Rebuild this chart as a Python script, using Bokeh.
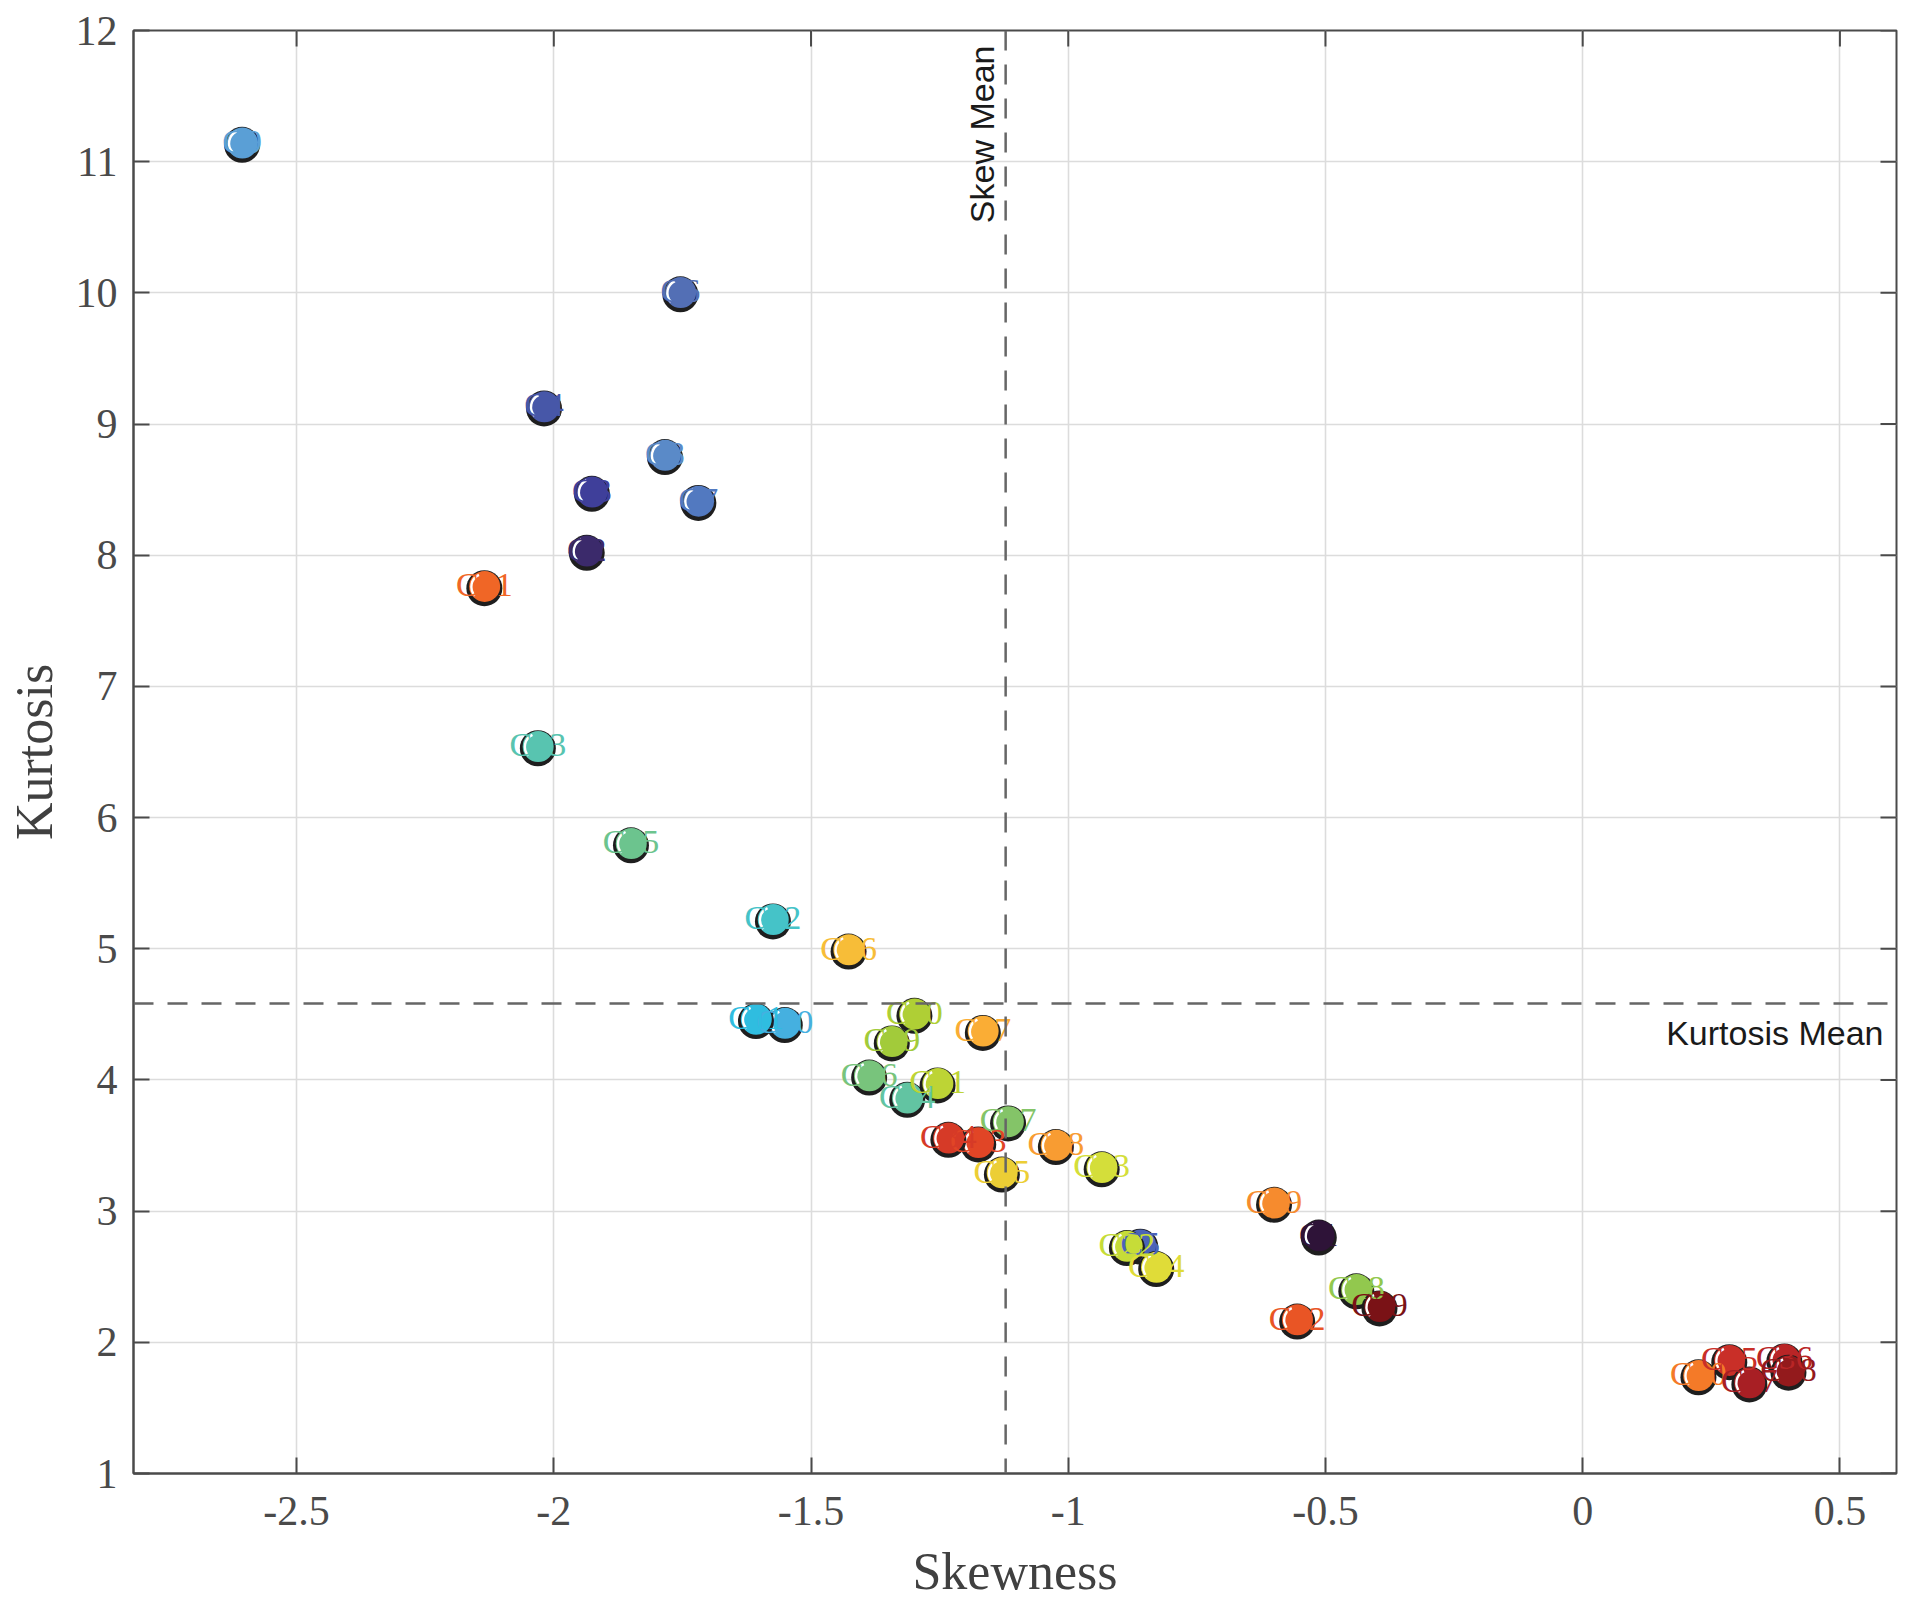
import math
from bokeh.plotting import figure
from bokeh.models import Range1d, FixedTicker, Span, ColumnDataSource
from bokeh.embed import file_html
from bokeh.resources import INLINE
from bokeh.core.properties import value

# ---------------- data ----------------
labels = ["C1", "C2", "C3", "C4", "C5", "C6", "C7", "C8", "C9", "C10",
          "C11", "C12", "C13", "C14", "C15", "C16", "C17", "C18", "C19", "C20",
          "C21", "C22", "C23", "C24", "C25", "C26", "C27", "C28", "C29", "C30",
          "C31", "C32", "C33", "C34", "C35", "C36", "C37", "C38", "C39"]

skewness = [-0.513, -1.936, -1.926, -2.019, -0.860, -1.754, -1.719, -1.784, -2.606, -1.551,
            -1.607, -1.574, -2.031, -1.313, -1.850, -1.387, -1.117, -0.440, -1.343, -1.299,
            -1.254, -0.886, -0.935, -0.829, -1.129, -1.427, -1.166, -1.024, -0.600, 0.225,
            -2.135, -0.555, -1.175, -1.233, 0.285, 0.392, 0.324, 0.400, -0.395]

kurtosis = [2.81, 8.03, 8.48, 9.13, 2.74, 10.00, 8.41, 8.76, 11.14, 4.43,
            4.46, 5.22, 6.54, 3.86, 5.80, 4.03, 3.68, 2.40, 4.29, 4.50,
            3.97, 2.73, 3.33, 2.57, 3.29, 4.99, 4.37, 3.50, 3.06, 1.745,
            7.76, 2.17, 3.52, 3.555, 1.86, 1.866, 1.69, 1.78, 2.27]

colors = ["#2e1338", "#3b2a6b", "#3f3f9a", "#4757a8", "#4a63b8", "#536fb5", "#5279c0", "#5a8ac8", "#5a9fd6", "#45b0e0",
          "#2fbde0", "#45c3c8", "#58c4b0", "#62c4a2", "#6cc48e", "#78c47c", "#84c468", "#92c84e", "#a2cb3a", "#afcf35",
          "#bdd435", "#c6dc38", "#d4de3a", "#e0dc38", "#ecce35", "#f7bd38", "#faad35", "#f89c32", "#f68b2e", "#f47a28",
          "#f06626", "#e95525", "#e14526", "#d63a27", "#c92f28", "#b92526", "#a81f24", "#931a1c", "#7a1216"]

x_ticks = [-2.5, -2.0, -1.5, -1.0, -0.5, 0.0, 0.5]
x_tick_labels = ["-2.5", "-2", "-1.5", "-1", "-0.5", "0", "0.5"]
y_ticks = [1.0, 2.0, 3.0, 4.0, 5.0, 6.0, 7.0, 8.0, 9.0, 10.0, 11.0, 12.0]
y_tick_labels = ["1", "2", "3", "4", "5", "6", "7", "8", "9", "10", "11", "12"]

x_label = "Skewness"
y_label = "Kurtosis"
skew_text = "Skew Mean"
kurt_text = "Kurtosis Mean"

skew_mean = sum(skewness) / len(skewness)
kurt_mean = sum(kurtosis) / len(kurtosis)

# ---------------- layout / style ----------------
X_RANGE = (-2.817, 0.610)
Y_RANGE = (1.0, 12.0)
FRAME_W, FRAME_H = 1763, 1443
AXIS_COLOR = "#4a4a4a"
SERIF = "Liberation Serif"
SANS = "Liberation Sans"
TICK_LEN = 16

p = figure(frame_width=FRAME_W, frame_height=FRAME_H,
           x_range=Range1d(*X_RANGE), y_range=Range1d(*Y_RANGE),
           output_backend="svg", toolbar_location=None,
           min_border_left=133, min_border_right=14, min_border_top=30, min_border_bottom=0,
           background_fill_color="white", border_fill_color="white",
           outline_line_color=AXIS_COLOR, outline_line_width=2)

xt = FixedTicker(ticks=x_ticks)
yt = FixedTicker(ticks=y_ticks)

xa = p.xaxis[0]
ya = p.yaxis[0]
xa.ticker = xt
ya.ticker = yt
xa.major_label_overrides = {float(v): s for v, s in zip(x_ticks, x_tick_labels)}
ya.major_label_overrides = {float(v): s for v, s in zip(y_ticks, y_tick_labels)}
xa.axis_label = x_label
ya.axis_label = y_label

for ax in (xa, ya):
    ax.major_tick_in = TICK_LEN
    ax.major_tick_out = 0
    ax.minor_tick_line_color = None
    ax.axis_line_color = AXIS_COLOR
    ax.axis_line_width = 2
    ax.major_tick_line_color = AXIS_COLOR
    ax.major_tick_line_width = 2
    ax.major_label_text_font = SERIF
    ax.major_label_text_font_size = "42px"
    ax.major_label_text_color = AXIS_COLOR
    ax.axis_label_text_font = SERIF
    ax.axis_label_text_font_size = "52px"
    ax.axis_label_text_font_style = "normal"
    ax.axis_label_text_color = "#404040"

ya.major_label_standoff = 16
ya.axis_label_standoff = 10
xa.major_label_standoff = 23
xa.axis_label_standoff = 15

p.xgrid.ticker = xt
p.ygrid.ticker = yt
for g in (p.xgrid, p.ygrid):
    g.grid_line_color = "#dcdcdc"
    g.grid_line_width = 1.6

ppx = FRAME_W / (X_RANGE[1] - X_RANGE[0])
ppy = FRAME_H / (Y_RANGE[1] - Y_RANGE[0])

# inward ticks on the top and right edges of the box
p.segment(x0=x_ticks, y0=[Y_RANGE[1]] * len(x_ticks),
          x1=x_ticks, y1=[Y_RANGE[1] - TICK_LEN / ppy] * len(x_ticks),
          line_color=AXIS_COLOR, line_width=2)
p.segment(x0=[X_RANGE[1]] * len(y_ticks), y0=y_ticks,
          x1=[X_RANGE[1] - TICK_LEN / ppx] * len(y_ticks), y1=y_ticks,
          line_color=AXIS_COLOR, line_width=2)

# ---------------- markers ----------------
for i in range(len(labels)):
    xi, yi, ci = skewness[i], kurtosis[i], colors[i]
    # dark outline, slightly dropped to give a thicker lower rim
    p.scatter(x=[xi], y=[yi - 1.5 / ppy], size=36, marker="circle",
              fill_color="#1e1e1e", line_color=None)
    # coloured face
    p.scatter(x=[xi + 0.3 / ppx], y=[yi + 0.3 / ppy], size=31, marker="circle",
              fill_color=ci, line_color=None)
    # small highlight on the left
    p.arc(x=[xi], y=[yi], radius=13.0, radius_units="screen",
          start_angle=2.0, end_angle=3.9, line_color="white", line_width=2.4)

src = ColumnDataSource(dict(x=skewness, y=kurtosis, label=labels, color=colors))
p.text(x="x", y="y", text="label", source=src, text_color="color",
       text_font=value(SERIF), text_font_size="34px",
       text_align="center", text_baseline="middle", y_offset=-2)

# ---------------- mean lines ----------------
p.add_layout(Span(location=skew_mean, dimension="height", line_color="#666666",
                  line_width=2.5, line_dash="20 14"))
p.add_layout(Span(location=kurt_mean, dimension="width", line_color="#666666",
                  line_width=2.5, line_dash="20 14"))

p.text(x=[skew_mean], y=[Y_RANGE[1]], text=[skew_text], angle=math.pi / 2,
       text_align="right", text_baseline="alphabetic", x_offset=-24, y_offset=15,
       text_font=value(SANS), text_font_size="34px", text_color="#1a1a1a")
p.text(x=[X_RANGE[1]], y=[kurt_mean], text=[kurt_text],
       text_align="right", text_baseline="alphabetic", x_offset=-13, y_offset=30,
       text_font=value(SANS), text_font_size="34px", text_color="#1a1a1a")

with open("out.html", "w") as f:
    f.write(file_html(p, INLINE))
